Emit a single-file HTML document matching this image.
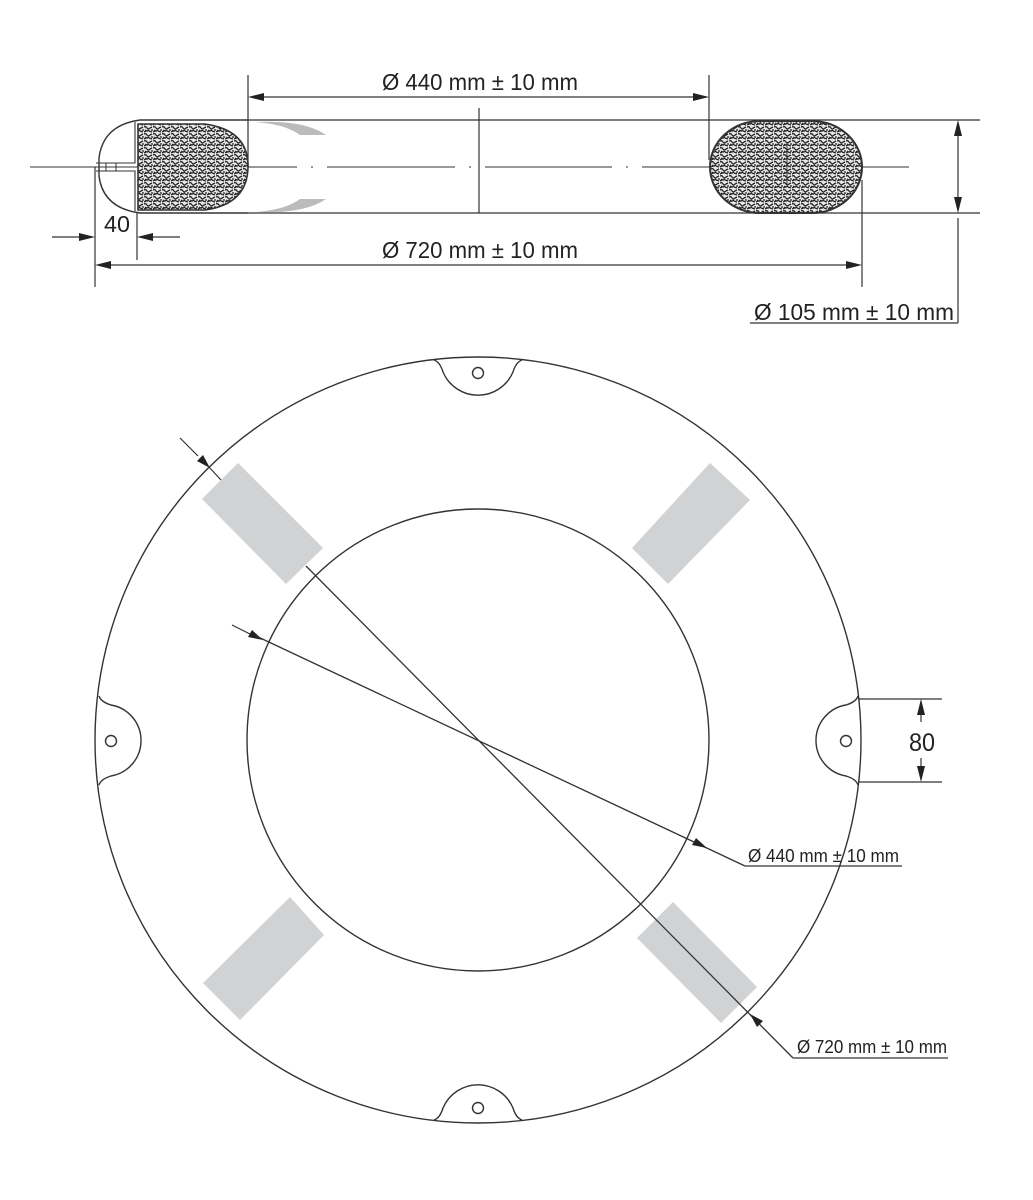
<!DOCTYPE html>
<html><head><meta charset="utf-8"><style>
html,body{margin:0;padding:0;background:#fff;}
svg{display:block;}
text{font-family:"Liberation Sans",sans-serif;fill:#222;}
</style></head><body>
<svg width="1033" height="1200" viewBox="0 0 1033 1200" xmlns="http://www.w3.org/2000/svg">
<defs>
<pattern id="foam" width="9" height="7" patternUnits="userSpaceOnUse">
<rect width="9" height="7" fill="#e8e8e8"/>
<path d="M0 1 q2 -1 3 1 t3 0 M1 4 q2 2 4 0 M5 5 l3 1 M6 2 l2 -1 M0 6 l2 -1 M7 4 l2 0" stroke="#222" stroke-width="1.3" fill="none"/>
</pattern>
</defs>
<g stroke="#333" stroke-width="1.4" fill="none">
<!-- TOP SECTION -->
<path d="M30 167 H297 M311 167 H313 M327 167 H455 M469 167 H471 M485 167 H612 M626 167 H628 M642 167 H909" stroke-width="1.1"/>
<line x1="248" y1="120" x2="980" y2="120" stroke-width="1.2"/>
<line x1="248" y1="213" x2="980" y2="213" stroke-width="1.2"/>
<line x1="479" y1="108" x2="479" y2="213" stroke-width="1.2"/>
<!-- left profile -->
<path d="M248 120 L140 120 Q103 125 99 158 L99 176 Q103 208 140 213 L248 213"/>
<path d="M96 163 L135 163 L135 122 M96 171 L135 171 L135 211" stroke-width="1.1"/>
<line x1="106" y1="163" x2="106" y2="171" stroke-width="1"/>
<line x1="116" y1="163" x2="116" y2="171" stroke-width="1"/>
<path d="M138 124 L205 124 Q248 130 248 166 Q248 204 205 210 L138 210 Z" fill="url(#foam)" stroke-width="1.6"/>
<path d="M255 122 Q305 120 326 135 L300 135 Q285 124 255 122Z" fill="#bbb" stroke="none"/>
<path d="M255 212 Q305 214 326 199 L300 199 Q285 210 255 212Z" fill="#bbb" stroke="none"/>
<!-- right oval -->
<rect x="710" y="121" width="152" height="92" rx="50" ry="46" fill="url(#foam)" stroke-width="2"/>
<line x1="787" y1="142" x2="787" y2="185" stroke-width="1"/>
<!-- dim 440 -->
<line x1="248" y1="75" x2="248" y2="168" stroke-width="1.2"/>
<line x1="709" y1="75" x2="709" y2="160" stroke-width="1.2"/>
<line x1="262" y1="97" x2="695" y2="97" stroke-width="1.2"/>
<path d="M248 97 L264 93 L264 101Z M709 97 L693 93 L693 101Z" fill="#222" stroke="none"/>
<!-- dim 720 -->
<line x1="95" y1="167" x2="95" y2="287" stroke-width="1.2"/>
<line x1="862" y1="180" x2="862" y2="287" stroke-width="1.2"/>
<line x1="108" y1="265" x2="849" y2="265" stroke-width="1.2"/>
<path d="M95 265 L111 261 L111 269Z M862 265 L846 261 L846 269Z" fill="#222" stroke="none"/>
<!-- dim 40 -->
<line x1="137" y1="213" x2="137" y2="260" stroke-width="1.2"/>
<line x1="52" y1="237" x2="80" y2="237" stroke-width="1.2"/>
<line x1="152" y1="237" x2="180" y2="237" stroke-width="1.2"/>
<path d="M95 237 L79 233 L79 241Z M137 237 L153 233 L153 241Z" fill="#222" stroke="none"/>
<!-- dim 105 -->
<line x1="958" y1="134" x2="958" y2="199" stroke-width="1.2"/>
<path d="M958 120 L954 136 L962 136Z M958 213 L954 197 L962 197Z" fill="#222" stroke="none"/>
<line x1="958" y1="218" x2="958" y2="323" stroke-width="1.2"/>
<line x1="750" y1="323" x2="958" y2="323" stroke-width="1.2"/>

<!-- BOTTOM VIEW -->
<g fill="#d0d2d3" stroke="none">
<polygon points="202,499 238,463 323,548 286,584"/>
<polygon points="632,548 710,463 750,500 668,584"/>
<polygon points="203,983 290,897 324,935 240,1020"/>
<polygon points="637,938 673,902 757,987 721,1023"/>
</g>
<circle cx="478" cy="740" r="383"/>
<circle cx="478" cy="740" r="231"/>
<g fill="#fff">
<path d="M434 360 Q440 362 443 372 A38 38 0 0 0 513 372 Q516 362 522 360"/>
<path d="M434 1120 Q440 1118 443 1108 A38 38 0 0 1 513 1108 Q516 1118 522 1120"/>
<path d="M99 696 Q101 702 111 705 A36 36 0 0 1 111 776 Q101 779 99 785"/>
<path d="M858 696 Q856 702 846 705 A36 36 0 0 0 846 776 Q856 779 858 785"/>
</g>
<circle cx="478" cy="373" r="5.5"/>
<circle cx="478" cy="1108" r="5.5"/>
<circle cx="111" cy="741" r="5.5"/>
<circle cx="846" cy="741" r="5.5"/>
<!-- 80 dim -->
<line x1="858" y1="699" x2="942" y2="699" stroke-width="1.2"/>
<line x1="858" y1="782" x2="942" y2="782" stroke-width="1.2"/>
<line x1="921" y1="712" x2="921" y2="722" stroke-width="1.2"/>
<line x1="921" y1="758" x2="921" y2="770" stroke-width="1.2"/>
<path d="M921 699 L917 715 L925 715Z M921 782 L917 766 L925 766Z" fill="#222" stroke="none"/>
<!-- 720 leader -->
<line x1="180" y1="438" x2="198" y2="456" stroke-width="1.2"/>
<path d="M210 468 L197 461 L203 455Z" fill="#222" stroke="none"/>
<line x1="208" y1="466" x2="221" y2="480" stroke-width="1.2"/>
<line x1="306" y1="566" x2="793" y2="1058" stroke-width="1.3"/>
<path d="M750 1014 L763 1021 L757 1027Z" fill="#222" stroke="none"/>
<line x1="793" y1="1058" x2="948" y2="1058" stroke-width="1.2"/>
<!-- 440 leader -->
<line x1="232" y1="625" x2="250" y2="634" stroke-width="1.2"/>
<path d="M263 640 L248 637 L252 630Z" fill="#222" stroke="none"/>
<line x1="256" y1="636" x2="745" y2="866" stroke-width="1.3"/>
<path d="M707 848 L692 845 L696 838Z" fill="#222" stroke="none"/>
<line x1="745" y1="866" x2="902" y2="866" stroke-width="1.2"/>
</g>
<g font-size="23">
<text x="480" y="90" text-anchor="middle" textLength="196" lengthAdjust="spacingAndGlyphs">Ø 440 mm ± 10 mm</text>
<text x="480" y="258" text-anchor="middle" textLength="196" lengthAdjust="spacingAndGlyphs">Ø 720 mm ± 10 mm</text>
<text x="117" y="232" text-anchor="middle" textLength="26" lengthAdjust="spacingAndGlyphs">40</text>
<text x="854" y="320" text-anchor="middle" textLength="200" lengthAdjust="spacingAndGlyphs">Ø 105 mm ± 10 mm</text>
<text x="922" y="751" text-anchor="middle" font-size="25" textLength="26" lengthAdjust="spacingAndGlyphs">80</text>
</g>
<g font-size="18">
<text x="748" y="862" textLength="151" lengthAdjust="spacingAndGlyphs">Ø 440 mm ± 10 mm</text>
<text x="797" y="1053" textLength="150" lengthAdjust="spacingAndGlyphs">Ø 720 mm ± 10 mm</text>
</g>
</svg>
</body></html>
